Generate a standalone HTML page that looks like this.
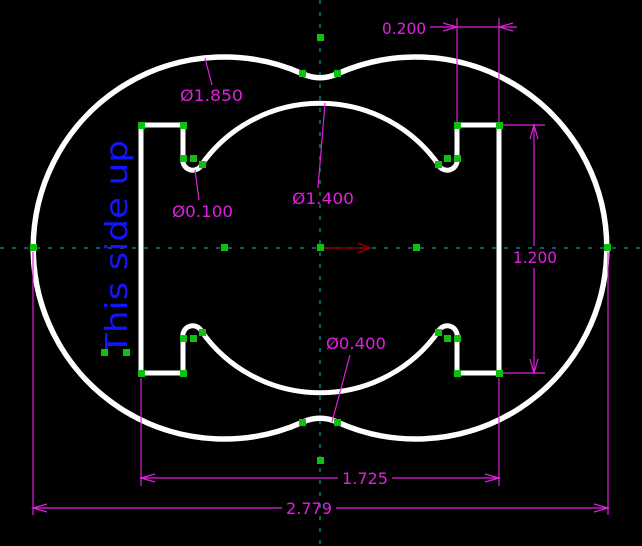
<!DOCTYPE html>
<html><head><meta charset="utf-8"><style>
html,body{margin:0;padding:0;background:#000;}
svg{display:block;}
text{font-family:"DejaVu Sans","Liberation Sans",sans-serif;}
</style></head><body>
<svg width="642" height="546" viewBox="0 0 642 546">
<g stroke="#0b7b7b" stroke-width="1.5" stroke-dasharray="4,8">
<line x1="0" y1="248" x2="642" y2="248"/>
<line x1="320" y1="0" x2="320" y2="546"/>
</g>
<path fill="none" stroke="#fff" stroke-width="5.5"
d="M303,74 A191,191 0 1 0 303,422 A41,41 0 0 1 337,422 A191,191 0 1 0 337,74 A41,41 0 0 1 303,74 Z"/>
<path fill="none" stroke="#fff" stroke-width="5" stroke-linejoin="miter"
d="M141,125 L183,125 L183,158 A10,10 0 0 0 202,164 A145,145 0 0 1 438,164 A10,10 0 0 0 457,158 L457,125 L499,125 L499,373 L457,373 L457,338 A10,10 0 0 0 438,332 A145,145 0 0 1 202,332 A10,10 0 0 0 183,338 L183,373 L141,373 Z"/>
<g stroke="#e020e0" stroke-width="1.2" fill="none">
<line x1="141" y1="378" x2="141" y2="486"/><line x1="499" y1="378" x2="499" y2="486"/>
<line x1="141" y1="478" x2="338" y2="478"/><line x1="392" y1="478" x2="499" y2="478"/>
<path d="M155,474 L141,478 L155,482 M485,474 L499,478 L485,482"/>
<line x1="33" y1="252" x2="33" y2="515"/><line x1="608" y1="252" x2="608" y2="515"/>
<line x1="33" y1="508" x2="282" y2="508"/><line x1="336" y1="508" x2="608" y2="508"/>
<path d="M47,504 L33,508 L47,512 M594,504 L608,508 L594,512"/>
<line x1="457" y1="18" x2="457" y2="123"/><line x1="499" y1="18" x2="499" y2="123"/>
<line x1="430" y1="27" x2="517" y2="27"/>
<path d="M443,23 L457,27 L443,31 M513,23 L499,27 L513,31"/>
<line x1="502" y1="125" x2="545" y2="125"/><line x1="502" y1="373" x2="545" y2="373"/>
<line x1="534" y1="125" x2="534" y2="246"/><line x1="534" y1="268" x2="534" y2="373"/>
<path d="M530,139 L534,125 L538,139 M530,359 L534,373 L538,359"/>
<line x1="205" y1="58" x2="212" y2="85"/>
<line x1="195" y1="170" x2="199" y2="200"/>
<line x1="325" y1="103" x2="318" y2="188"/>
<line x1="332" y1="422" x2="350" y2="355"/>
</g>
<g fill="#e020e0" font-size="16">
<text x="342" y="484" textLength="46" lengthAdjust="spacingAndGlyphs">1.725</text>
<text x="286" y="514" textLength="46" lengthAdjust="spacingAndGlyphs">2.779</text>
<text x="382" y="34" textLength="44" lengthAdjust="spacingAndGlyphs">0.200</text>
<text x="513" y="263" textLength="44" lengthAdjust="spacingAndGlyphs">1.200</text>
<text x="180" y="101" textLength="63" lengthAdjust="spacingAndGlyphs">Ø1.850</text>
<text x="172" y="217" textLength="61" lengthAdjust="spacingAndGlyphs">Ø0.100</text>
<text x="292" y="204" textLength="62" lengthAdjust="spacingAndGlyphs">Ø1.400</text>
<text x="326" y="349" textLength="60" lengthAdjust="spacingAndGlyphs">Ø0.400</text>
</g>
<g stroke="#8b0000" stroke-width="1.5" fill="none">
<line x1="322" y1="248" x2="370" y2="248"/><path d="M358,243 L370,248 L358,253"/>
</g>
<text transform="translate(127,355) rotate(-90)" fill="#1414ff" font-size="30" textLength="215" lengthAdjust="spacingAndGlyphs">This side up</text>
<g fill="#10c010">
<rect x="138" y="122" width="7" height="7"/><rect x="180" y="122" width="7" height="7"/>
<rect x="454" y="122" width="7" height="7"/><rect x="496" y="122" width="7" height="7"/>
<rect x="138" y="370" width="7" height="7"/><rect x="180" y="370" width="7" height="7"/>
<rect x="454" y="370" width="7" height="7"/><rect x="496" y="370" width="7" height="7"/>
<rect x="180" y="155" width="7" height="7"/><rect x="190" y="155" width="7" height="7"/><rect x="199" y="161" width="7" height="7"/>
<rect x="454" y="155" width="7" height="7"/><rect x="444" y="155" width="7" height="7"/><rect x="435" y="161" width="7" height="7"/>
<rect x="180" y="335" width="7" height="7"/><rect x="190" y="335" width="7" height="7"/><rect x="199" y="329" width="7" height="7"/>
<rect x="454" y="335" width="7" height="7"/><rect x="444" y="335" width="7" height="7"/><rect x="435" y="329" width="7" height="7"/>
<rect x="317" y="34" width="7" height="7"/><rect x="317" y="457" width="7" height="7"/>
<rect x="299" y="70" width="7" height="7"/><rect x="334" y="70" width="7" height="7"/>
<rect x="299" y="419" width="7" height="7"/><rect x="334" y="419" width="7" height="7"/>
<rect x="30" y="244" width="7" height="7"/><rect x="604" y="244" width="7" height="7"/>
<rect x="221" y="244" width="7" height="7"/><rect x="317" y="244" width="7" height="7"/><rect x="413" y="244" width="7" height="7"/>
<rect x="101" y="349" width="7" height="7"/><rect x="123" y="349" width="7" height="7"/>
</g>
</svg>
</body></html>
